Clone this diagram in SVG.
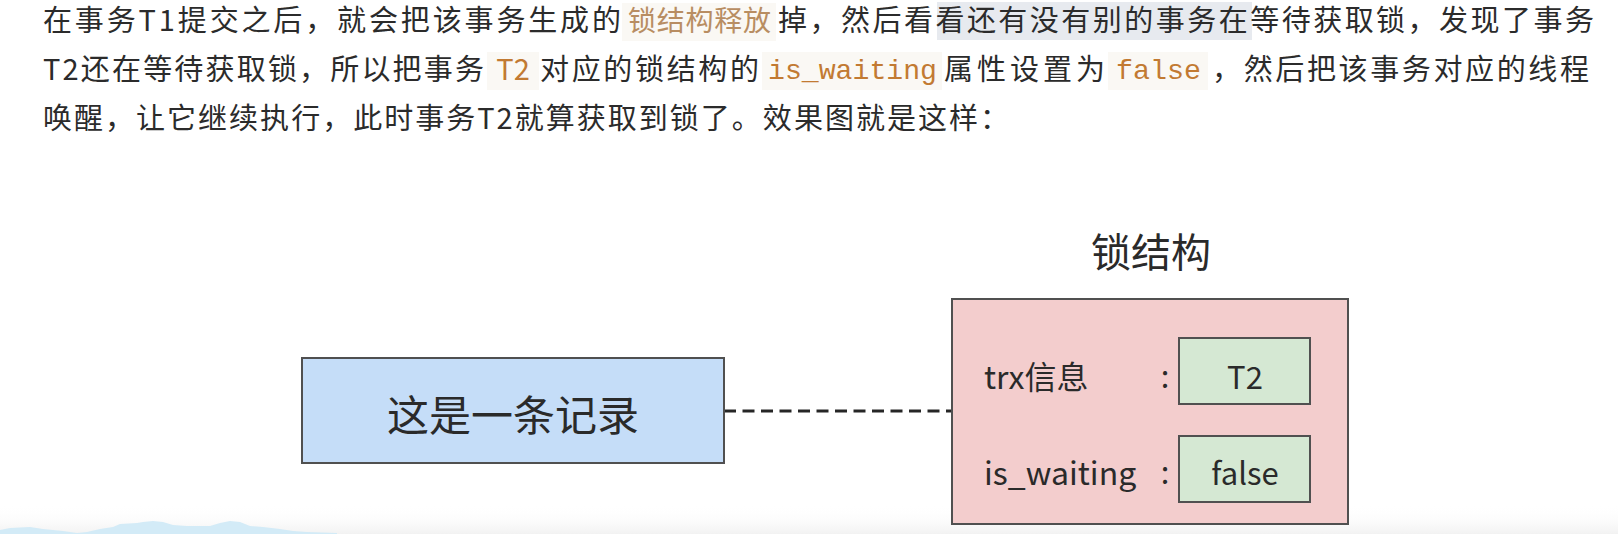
<svg xmlns="http://www.w3.org/2000/svg" width="1618" height="534" viewBox="0 0 1618 534">
  <defs>
    <style>
      .p { font-family: "Noto Sans CJK SC", "Noto Sans", sans-serif; font-size: 29px; fill: #2b2b2b; }
      .hl { font-family: "Noto Sans CJK SC", "Noto Sans", sans-serif; font-size: 28px; fill: #b88d62; }
      .code { font-family: "Liberation Mono", "DejaVu Sans Mono", monospace; font-size: 28px; fill: #c27a32; }
      .chip { fill: #faf8f4; }
      .d { font-family: "Noto Sans CJK SC", "Noto Sans", sans-serif; fill: #2a2a2a; }
      .box { stroke: #505050; stroke-width: 2; }
      .conn { stroke: #262626; stroke-width: 2.8; stroke-dasharray: 12 6.5; fill: none; }
    </style>
    <linearGradient id="fade" x1="0" y1="0" x2="0" y2="1">
      <stop offset="0" stop-color="#ffffff" stop-opacity="0"/>
      <stop offset="1" stop-color="#f2f2f2" stop-opacity="1"/>
    </linearGradient>
  </defs>

  <rect x="0" y="0" width="1618" height="534" fill="#ffffff"/>
  <rect x="0" y="505" width="1618" height="29" fill="url(#fade)"/>
  <path d="M0,530 L10,528 L30,527 L43,529 L63,531 L77,533 L87,532 L100,529 L113,527 L120,524 L137,523 L143,522 L153,521 L163,522 L173,525 L187,526 L210,526 L220,523 L230,521 L240,522 L250,526 L263,527 L280,529 L293,531 L307,532 L337,533 L337,534 L0,534 Z" fill="#d3ebf7"/>

  <g id="paragraph">
    <rect x="937" y="2" width="315" height="38" fill="#e7eaef"/>
    <rect class="chip" x="622" y="3" width="154" height="38"/>
    <rect class="chip" x="487" y="52" width="52" height="38"/>
    <rect class="chip" x="762" y="52" width="180" height="38"/>
    <rect class="chip" x="1108" y="52" width="100" height="38"/>

    <text class="p" x="43" y="31" textLength="578" lengthAdjust="spacing">在事务T1提交之后，就会把该事务生成的</text>
    <text class="hl" x="628" y="31" textLength="143" lengthAdjust="spacing">锁结构释放</text>
    <text class="p" x="778" y="31" textLength="816" lengthAdjust="spacing">掉，然后看看还有没有别的事务在等待获取锁，发现了事务</text>

    <text class="p" x="43" y="80" textLength="441" lengthAdjust="spacing">T2还在等待获取锁，所以把事务</text>
    <text class="hl" x="513" y="80" text-anchor="middle" style="fill:#c27a32; font-size:29px">T2</text>
    <text class="p" x="540" y="80" textLength="219" lengthAdjust="spacing">对应的锁结构的</text>
    <text class="code" x="768" y="79" textLength="169" lengthAdjust="spacingAndGlyphs">is_waiting</text>
    <text class="p" x="944" y="80" textLength="161" lengthAdjust="spacing">属性设置为</text>
    <text class="code" x="1116" y="79" textLength="85" lengthAdjust="spacingAndGlyphs">false</text>
    <text class="p" x="1212" y="80" textLength="377" lengthAdjust="spacing">，然后把该事务对应的线程</text>

    <text class="p" x="43" y="129" textLength="966" lengthAdjust="spacing">唤醒，让它继续执行，此时事务T2就算获取到锁了。效果图就是这样：</text>
  </g>

  <g id="connectors">
    <line class="conn" x1="724" y1="411" x2="952" y2="411"/>
  </g>

  <g id="record">
    <rect class="box" x="302" y="358" width="422" height="105" fill="#c5ddf8"/>
    <text class="d" x="513" y="431" font-size="42" text-anchor="middle">这是一条记录</text>
  </g>

  <g id="lock-title">
    <text class="d" x="1151" y="267" font-size="40" text-anchor="middle">锁结构</text>
  </g>

  <g id="lock">
    <rect class="box" x="952" y="299" width="396" height="225" fill="#f3cdcd"/>
    <text class="d" x="984" y="389" font-size="32">trx信息</text>
    <text class="d" x="1165" y="388" font-size="31" text-anchor="middle">:</text>
    <text class="d" x="984" y="485" font-size="32">is_waiting</text>
    <text class="d" x="1165" y="484" font-size="31" text-anchor="middle">:</text>
    <g id="trx-value">
      <rect class="box" x="1179" y="338" width="131" height="66" fill="#d5e8d3" stroke-width="2.5"/>
      <text class="d" x="1245" y="389" font-size="31" text-anchor="middle">T2</text>
    </g>
    <g id="waiting-value">
      <rect class="box" x="1179" y="436" width="131" height="66" fill="#d5e8d3" stroke-width="2.5"/>
      <text class="d" x="1245" y="485" font-size="31" text-anchor="middle">false</text>
    </g>
  </g>
</svg>
